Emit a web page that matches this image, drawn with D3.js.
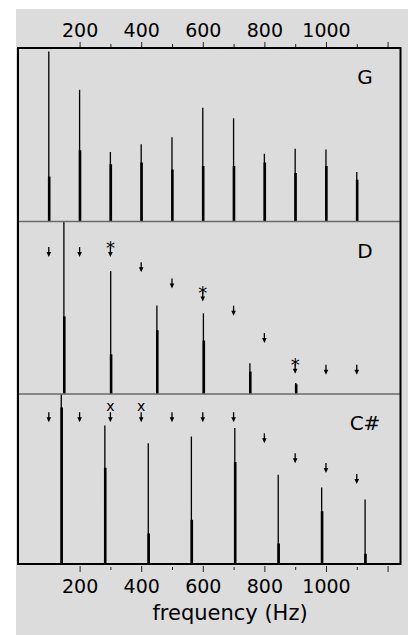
<!DOCTYPE html>
<html>
<head>
<meta charset="utf-8">
<script src="https://cdn.jsdelivr.net/npm/d3@7"></script>
<style>
  body { margin: 0; background: #fff; }
  text { font-family: "DejaVu Sans", sans-serif; fill: #000; }
</style>
</head>
<body>
<svg id="chart" width="411" height="635"></svg>
<script>
// axis ticks
const majorTicks = [200, 400, 600, 800, 1000, 1200];
const tickLabels = ['200', '400', '600', '800', '1000', ''];
const minorTicks = [300, 500, 700, 900, 1100];

// G panel peaks (height as fraction of panel, core = thick lower part)
const gFreq = [100, 200, 300, 400, 500, 600, 700, 800, 900, 1000, 1100];
const gPeak = [0.98, 0.76, 0.40, 0.445, 0.485, 0.655, 0.595, 0.39, 0.42, 0.415, 0.285];
const gCore = [0.26, 0.41, 0.33, 0.34, 0.30, 0.32, 0.32, 0.34, 0.28, 0.32, 0.24];

// D panel peaks
const dFreq = [149, 301, 451, 602, 753, 902];
const dPeak = [1.1, 0.713, 0.513, 0.468, 0.178, 0.064];
const dCore = [0.45, 0.23, 0.37, 0.31, 0.13, 0.057];

// C# panel peaks
const cFreq = [140.5, 282, 423, 563, 704, 845, 986, 1127];
const cPeak = [1.1, 0.815, 0.71, 0.75, 0.80, 0.525, 0.45, 0.38];
const cCore = [0.92, 0.566, 0.18, 0.26, 0.60, 0.12, 0.31, 0.06];

// arrows at the G harmonics, tip height as fraction of panel
const arrowFreq = [100, 200, 300, 400, 500, 600, 700, 800, 900, 1000, 1100];
const dArrow = [0.794, 0.794, 0.794, 0.706, 0.612, 0.536, 0.454, 0.296, 0.117, 0.111, 0.111];
const cArrow = [0.834, 0.834, 0.834, 0.834, 0.834, 0.834, 0.834, 0.71, 0.592, 0.535, 0.47];
const dMarks = ['', '', '*', '', '', '*', '', '', '*', '', ''];
const cMarks = ['', '', 'x', 'x', '', '', '', '', '', '', ''];

const svg = d3.select('#chart');
const left = 18, right = 400.5;
const edges = [48, 221.5, 394, 564];

svg.append('rect')
    .attr('x', 16).attr('y', 9)
    .attr('width', 392).attr('height', 626)
    .attr('fill', '#dcdcdc');

const x = d3.scaleLinear().domain([0, 1242]).range([left, right]);

const panels = [
    { name: 'G', freq: gFreq, peak: gPeak, core: gCore, arrows: null, marks: null },
    { name: 'D', freq: dFreq, peak: dPeak, core: dCore, arrows: dArrow, marks: dMarks },
    { name: 'C#', freq: cFreq, peak: cPeak, core: cCore, arrows: cArrow, marks: cMarks }
];

panels.forEach((p, i) => {
    const top = edges[i], bottom = edges[i + 1];
    const y = d3.scaleLinear().domain([0, 1]).range([bottom, top]);

    svg.append('clipPath').attr('id', 'clip' + i)
        .append('rect')
        .attr('x', left).attr('y', top)
        .attr('width', right - left).attr('height', bottom - top);

    const g = svg.append('g').attr('clip-path', `url(#clip${i})`);

    // thin full-height line of each peak
    g.selectAll('line.peak')
        .data(p.freq)
        .enter()
        .append('line')
        .attr('class', 'peak')
        .attr('x1', d => x(d)).attr('x2', d => x(d))
        .attr('y1', y(0))
        .attr('y2', (d, j) => y(p.peak[j]))
        .attr('stroke', '#000')
        .attr('stroke-width', 1.3);

    // thicker lower part
    g.selectAll('line.core')
        .data(p.freq)
        .enter()
        .append('line')
        .attr('class', 'core')
        .attr('x1', d => x(d) + 0.4).attr('x2', d => x(d) + 0.4)
        .attr('y1', y(0))
        .attr('y2', (d, j) => y(p.core[j]))
        .attr('stroke', '#000')
        .attr('stroke-width', 2.6);

    if (p.arrows) {
        const a = svg.append('g');
        arrowFreq.forEach((f, j) => {
            const ax = x(f), tip = y(p.arrows[j]);
            a.append('line')
                .attr('x1', ax).attr('x2', ax)
                .attr('y1', tip - 10).attr('y2', tip - 4)
                .attr('stroke', '#000').attr('stroke-width', 1.3);
            a.append('path')
                .attr('d', `M${ax - 2.3},${tip - 5}L${ax + 2.3},${tip - 5}L${ax},${tip}Z`)
                .attr('fill', '#000');
            const m = p.marks[j];
            if (m === '*') {
                a.append('text')
                    .attr('x', ax).attr('y', tip - 3)
                    .attr('text-anchor', 'middle')
                    .attr('font-size', 18)
                    .text(m);
            } else if (m === 'x') {
                a.append('text')
                    .attr('x', ax).attr('y', tip - 11)
                    .attr('text-anchor', 'middle')
                    .attr('font-size', 14)
                    .text(m);
            }
        });
    }

    svg.append('text')
        .attr('x', 365)
        .attr('y', top + 36)
        .attr('text-anchor', 'middle')
        .attr('font-size', 20)
        .text(p.name);

    if (i > 0) {
        svg.append('line')
            .attr('x1', left).attr('x2', right)
            .attr('y1', top).attr('y2', top)
            .attr('stroke', '#6a6a6a')
            .attr('stroke-width', 1.5);
    }
});

// frame
svg.append('rect')
    .attr('x', left).attr('y', edges[0])
    .attr('width', right - left).attr('height', edges[3] - edges[0])
    .attr('fill', 'none')
    .attr('stroke', '#000')
    .attr('stroke-width', 2);

// axes top and bottom
const topAxis = d3.axisTop(x)
    .tickValues(majorTicks)
    .tickFormat((d, i) => tickLabels[i])
    .tickSize(5).tickPadding(5);
const bottomAxis = d3.axisBottom(x)
    .tickValues(majorTicks)
    .tickFormat((d, i) => tickLabels[i])
    .tickSize(6).tickPadding(8);

function styleAxis(sel) {
    sel.select('.domain').remove();
    sel.selectAll('.tick line').attr('stroke', '#222').attr('stroke-width', 1);
    sel.selectAll('.tick text')
        .attr('font-family', 'DejaVu Sans')
        .attr('font-size', 19)
        .attr('fill', '#000');
}

svg.append('g').attr('transform', `translate(0,${edges[0] - 1})`).call(topAxis).call(styleAxis);
svg.append('g').attr('transform', `translate(0,${edges[3] + 2})`).call(bottomAxis).call(styleAxis);

svg.append('g').attr('transform', `translate(0,${edges[0] - 1})`)
    .call(d3.axisTop(x).tickValues(minorTicks).tickFormat('').tickSize(3))
    .call(styleAxis);
svg.append('g').attr('transform', `translate(0,${edges[3] + 3})`)
    .call(d3.axisBottom(x).tickValues(minorTicks).tickFormat('').tickSize(3))
    .call(styleAxis);

svg.append('text')
    .attr('x', 230)
    .attr('y', 620)
    .attr('text-anchor', 'middle')
    .attr('font-size', 21)
    .text('frequency (Hz)');
</script>
</body>
</html>
